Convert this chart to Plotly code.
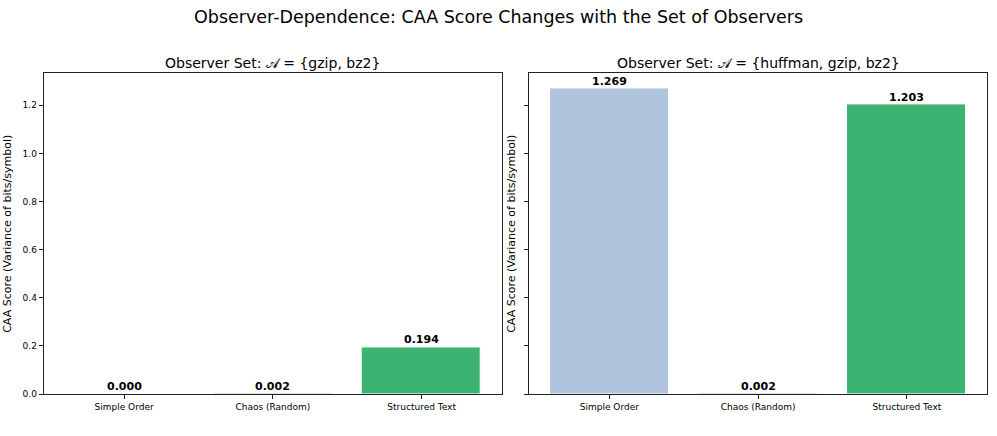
import plotly.graph_objects as go

categories = ["Simple Order", "Chaos (Random)", "Structured Text"]
scores_a = [0.000, 0.002, 0.194]
scores_b = [1.269, 0.002, 1.203]
bar_colors = ["#b0c4de", "#cd5c5c", "#3cb371"]
title_main = "Observer-Dependence: CAA Score Changes with the Set of Observers"
title_a = "Observer Set: 𝒜 = {gzip, bz2}"
title_b = "Observer Set: 𝒜 = {huffman, gzip, bz2}"
y_title = "CAA Score (Variance of bits/symbol)"
y_ticks = [0.0, 0.2, 0.4, 0.6, 0.8, 1.0, 1.2]

FONT = "DejaVu Sans"
W, H = 997, 436
xd1 = [43.7 / W, 502 / W]
xd2 = [529 / W, 987.3 / W]
yd = [1 - 398.7 / H, 1 - 74.3 / H]

fig = go.Figure()
xpos = [0, 1, 2]
annotations = []
for vals, ax, ay in [(scores_a, "x", "y"), (scores_b, "x2", "y2")]:
    fig.add_trace(go.Bar(
        x=xpos, y=vals, width=0.8, marker=dict(color=bar_colors, line=dict(color="white", width=1)),
        xaxis=ax, yaxis=ay, showlegend=False, hoverinfo="skip"))
    for xi, v in zip(xpos, vals):
        annotations.append(dict(text=f"<b>{v:.3f}</b>", x=xi, y=v, xref=ax, yref=ay, showarrow=False,
                                xanchor="center", yanchor="bottom", yshift=-1,
                                font=dict(family=FONT, size=11, color="black")))

ymax = max(scores_a + scores_b) * 1.05
axcommon = dict(showline=True, linecolor="#222", linewidth=1, mirror=True, showgrid=False,
                zeroline=False, ticks="outside", ticklen=4, tickcolor="#222",
                tickfont=dict(family=FONT, size=9, color="black"))
annotations += [
    dict(text=title_main, x=0.5, y=1 - 17 / H, xref="paper", yref="paper", showarrow=False,
         xanchor="center", yanchor="middle", font=dict(family=FONT, size=17.5, color="black")),
    dict(text=title_a, x=sum(xd1) / 2, y=1 - 64 / H, xref="paper", yref="paper", showarrow=False,
         xanchor="center", yanchor="middle", font=dict(family=FONT, size=14, color="black")),
    dict(text=title_b, x=sum(xd2) / 2, y=1 - 64 / H, xref="paper", yref="paper", showarrow=False,
         xanchor="center", yanchor="middle", font=dict(family=FONT, size=14, color="black")),
]
fig.update_layout(
    width=W, height=H, autosize=False, plot_bgcolor="white", paper_bgcolor="white",
    margin=dict(l=0, r=0, t=0, b=0), bargap=0,
    xaxis=dict(domain=xd1, range=[-0.54, 2.54], tickvals=xpos, ticktext=categories, **axcommon),
    xaxis2=dict(domain=xd2, range=[-0.54, 2.54], tickvals=xpos, ticktext=categories, **axcommon),
    yaxis=dict(domain=yd, range=[0, ymax], tickvals=y_ticks, tickformat=".1f",
               title=dict(text=y_title, font=dict(family=FONT, size=11, color="black"), standoff=8), **axcommon),
    yaxis2=dict(domain=yd, range=[0, ymax], tickvals=y_ticks, showticklabels=False, anchor="x2",
                title=dict(text=y_title, font=dict(family=FONT, size=11, color="black"), standoff=6), **axcommon),
    annotations=annotations,
)
fig.write_html("out.html", config={"displayModeBar": False, "responsive": False},
               post_script="document.body.style.margin='0';document.body.style.padding='0';")
